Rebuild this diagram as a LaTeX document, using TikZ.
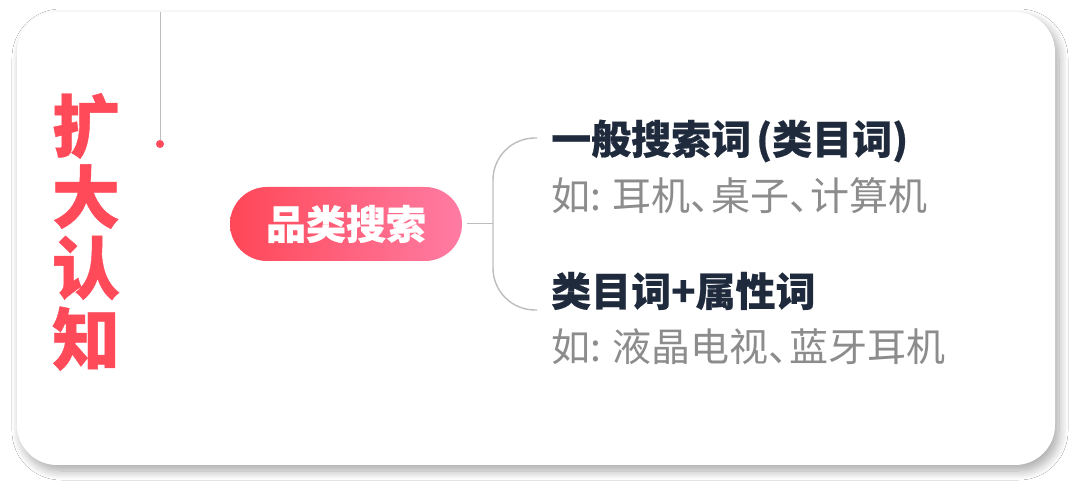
\documentclass[tikz,border=0pt]{standalone}
\usepackage{fontspec}
\newfontfamily\cjk{Noto Sans CJK SC}
\usetikzlibrary{positioning,shadows.blur}
\definecolor{titlered}{HTML}{FF4A5A}
\definecolor{pillleft}{HTML}{FF4757}
\definecolor{pillright}{HTML}{FF7CA3}
\definecolor{headnavy}{HTML}{1F2A3C}
\definecolor{examplegrey}{HTML}{8C8C8C}
\definecolor{linegrey}{HTML}{BDBDBD}
% half width enumeration comma
\newcommand{\dun}{\makebox[21pt][l]{、}}
\begin{document}
\begin{tikzpicture}[x=1pt,y=-1pt]
    % Define styles
    \tikzstyle{card}=[fill=white,rounded corners=40pt,blur shadow={shadow xshift=4pt,shadow yshift=-6pt,shadow blur radius=9pt,shadow blur steps=12,shadow opacity=34}]
    \tikzstyle{title}=[align=center,inner sep=0pt,text=titlered,font=\cjk\bfseries\addfontfeature{FakeBold=0.6}\fontsize{68}{71}\selectfont]
    \tikzstyle{pill}=[rounded corners=37pt,minimum width=232pt,minimum height=74pt,inner sep=0pt,left color=pillleft,right color=pillright,text=white,font=\cjk\bfseries\addfontfeature{FakeBold=0.6}\fontsize{40}{44}\selectfont]
    \tikzstyle{head}=[anchor=west,inner sep=0pt,text=headnavy,font=\cjk\bfseries\addfontfeature{FakeBold=0.5}\fontsize{40}{44}\selectfont]
    \tikzstyle{example}=[anchor=west,inner sep=0pt,text=examplegrey,font=\cjk\fontsize{39}{43}\selectfont]
    \tikzstyle{branch}=[draw=linegrey,line width=1.4pt,rounded corners=42pt]
    \tikzstyle{stem}=[draw=linegrey,line width=1pt]

    \useasboundingbox (0,0) rectangle (1080,494);
    \fill[white] (0,0) rectangle (1080,494);

    % Card
    \path[card] (17,12) rectangle (1055,465);

    % Title and hanging dot
    \node[title] (expand) at (86,232) {扩\\大\\认\\知};
    \coordinate (hook) at (160,12);
    \node[circle,fill=titlered,inner sep=0pt,minimum size=8pt] (dot) at (160,144) {};
    \draw[stem] (hook) -- (dot);

    % Central node
    \node[pill] (category) at (346,224) {品类搜索};

    % Branches
    \node[head] (generic) at (551,141) {一般搜索词\hspace{5pt}(类目词)};
    \node[example] (generic ex) at (551,196) {如: 耳机\dun 桌子\dun 计算机};
    \node[head] (attribute) at (551,291) {类目词+属性词};
    \node[example] (attribute ex) at (551,347) {如: 液晶电视\dun 蓝牙耳机};

    % Connectors
    \coordinate (fork) at (493,224);
    \draw[stem] (category.east) ++(5,0) -- (fork);
    \draw[branch] (fork) |- ([xshift=-14pt,yshift=3pt]generic.west);
    \draw[branch] (fork) |- ([xshift=-14pt,yshift=-19pt]attribute.west);
\end{tikzpicture}
\end{document}
